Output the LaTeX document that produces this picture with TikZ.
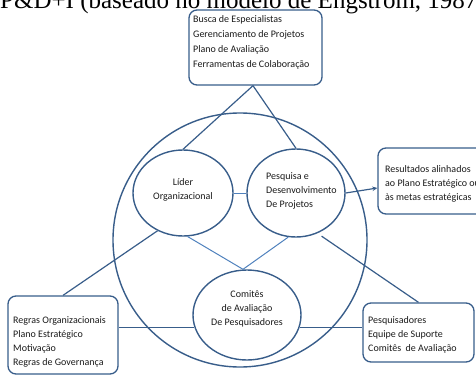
\documentclass[tikz,border=0pt]{standalone}
\usepackage{fontspec}
\setmainfont{Carlito}
\newfontfamily\titlefont{Liberation Serif}
\usetikzlibrary{arrows.meta,calc,shapes.geometric}
\definecolor{linedark}{RGB}{56,93,138}
\definecolor{linelight}{RGB}{79,129,189}
\begin{document}
\begin{tikzpicture}[x=1pt,y=-1pt,
  lbl/.style={inner sep=0pt,font=\fontsize{10}{14}\selectfont,text=black!90},
  oval/.style={ellipse,draw=linedark,line width=1.4pt,inner sep=0pt},
  roundbox/.style={draw=linedark,line width=1.3pt,rounded corners=8pt,inner sep=0pt},
  darkline/.style={draw=linedark,line width=1.2pt},
  lightline/.style={draw=linelight,line width=1pt}]
\useasboundingbox (0,0) rectangle (476,375);
\clip (0,0) rectangle (476,375);

% heading, partly above the page
\node[anchor=base west,inner sep=0pt,font=\titlefont\fontsize{25}{25}\selectfont] (title) at (0,8)
  {P\&D+I (baseado no modelo de Engström, 1987)};

% outer ring
\node[circle,draw=linedark,line width=1.4pt,minimum size=254pt,inner sep=0pt] (ring) at (240,240) {};

% boxes
\node[roundbox,minimum width=133pt,minimum height=75pt] (topbox) at (255.5,47.5) {};
\node[roundbox,minimum width=110pt,minimum height=78pt] (leftbox) at (63,335) {};
\node[roundbox,minimum width=111pt,minimum height=59pt] (rightbox) at (418.5,332.5) {};
\node[roundbox,minimum width=122pt,minimum height=66pt] (resbox) at (439,181) {};

% ellipses
\node[oval,minimum width=100pt,minimum height=86pt] (lider) at (183,193) {};
\node[oval,minimum width=98pt,minimum height=88pt] (pesq) at (296,193) {};
\node[oval,minimum width=108pt,minimum height=90pt] (comite) at (247,315) {};

% texts
\node[lbl,align=left,anchor=north west,font=\fontsize{10}{15}\selectfont] (toptext) at (193,15)
  {Busca de Especialistas\\Gerenciamento de Projetos\\Plano de Avaliação\\Ferramentas de Colaboração};
\node[lbl,align=center] (lidertext) at (183,190) {Líder\\Organizacional};
\node[lbl,align=left,anchor=west] (pesqtext) at (266,191) {Pesquisa e\\Desenvolvimento\\De Projetos};
\node[lbl,align=center] (comitetext) at (247,309) {Comitês\\de Avaliação\\De Pesquisadores};
\node[lbl,align=left,anchor=north west] (lefttext) at (13,316)
  {Regras Organizacionais\\Plano Estratégico\\Motivação\\Regras de Governança};
\node[lbl,align=left,anchor=north west] (righttext) at (368,316)
  {Pesquisadores\\Equipe de Suporte\\Comitês~ de Avaliação};
\node[lbl,align=left,anchor=north west] (restext) at (385,165)
  {Resultados alinhados\\ao Plano Estratégico ou\\às metas estratégicas};

% connectors
\coordinate (apex) at ($(topbox.south)+(-2.5,0)$);
\draw[darkline] (apex) -- (lider.north);
\draw[darkline] (apex) -- (pesq.north);
\draw[lightline] (lider.east) -- (pesq.west);
\coordinate (meet) at ($(comite.north)+(-4,0)$);
\draw[lightline] (lider.-84) -- (meet);
\draw[lightline] (pesq.-100) -- (meet);
\draw[darkline] (lider.-124) -- (leftbox.north);
\draw[darkline,shorten <=5pt] (pesq.-62) -- (rightbox.north);
\draw[darkline,-{Stealth[length=5pt,width=4.5pt]}] (pesq.east) -- ($(resbox.west)+(0,7)$);
\draw[darkline] (comite.-167) -- (comite.-167 -| leftbox.east);
\draw[darkline] (comite.-13) -- (comite.-13 -| rightbox.west);
\end{tikzpicture}
\end{document}
